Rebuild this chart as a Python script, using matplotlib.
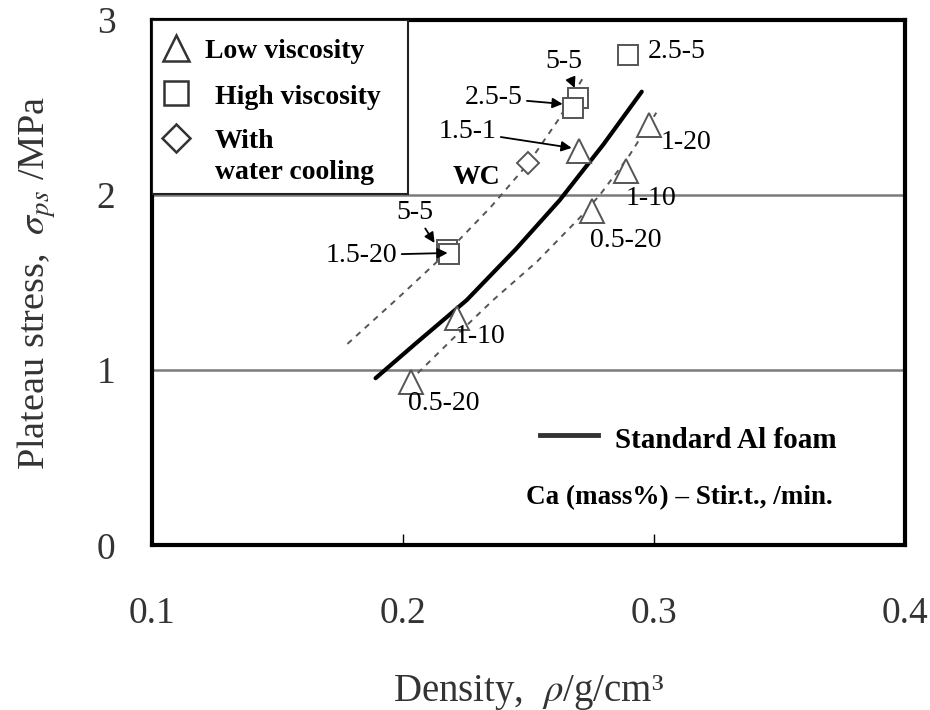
import matplotlib
matplotlib.use("Agg")
import matplotlib.pyplot as plt
from matplotlib.patches import Rectangle
from matplotlib.lines import Line2D

plt.rcParams['font.family'] = ['Liberation Serif', 'DejaVu Serif']
plt.rcParams['mathtext.fontset'] = 'stix'

# Low viscosity samples (triangles)
low_rho = [0.2032, 0.2215, 0.2753, 0.2889, 0.2980, 0.2701]
low_sig = [0.93, 1.30, 1.91, 2.137, 2.40, 2.25]
low_lab = ["0.5-20", "1-10", "0.5-20", "1-10", "1-20", "1.5-1"]

# High viscosity samples (squares)
high_rho = [0.2896, 0.2697, 0.2677, 0.2175, 0.2185]
high_sig = [2.80, 2.554, 2.497, 1.685, 1.665]
high_lab = ["2.5-5", "5-5", "2.5-5", "5-5", "1.5-20"]

# Water-cooled sample (diamond)
wc_rho = [0.2498]
wc_sig = [2.183]

# Standard Al foam curve
std_rho = [0.1892, 0.205, 0.2255, 0.245, 0.2625, 0.280, 0.2952]
std_sig = [0.954, 1.15, 1.40, 1.69, 1.97, 2.29, 2.59]

# Upper and lower guide curves
up_rho = [0.178, 0.198, 0.2175, 0.235, 0.250, 0.262, 0.2725]
up_sig = [1.15, 1.41, 1.67, 1.93, 2.18, 2.43, 2.686]
lo_rho = [0.206, 0.220, 0.236, 0.2535, 0.2705, 0.2785, 0.290, 0.301]
lo_sig = [0.983, 1.18, 1.40, 1.62, 1.87, 2.00, 2.22, 2.47]

x_ticks = [0.1, 0.2, 0.3, 0.4]
y_ticks = [0, 1, 2, 3]

fig = plt.figure(figsize=(9.3, 7.1), dpi=100)
ax = fig.add_axes([0.163, 0.232, 0.810, 0.740])
ax.set_xlim(0.1, 0.4)
ax.set_ylim(0, 3)

for yg in [1, 2]:
    ax.axhline(yg, color='#7a7a7a', lw=1.8, zorder=1)

ax.plot(up_rho, up_sig, ls=(0, (3, 3)), color='#555555', lw=1.4, zorder=2)
ax.plot(lo_rho, lo_sig, ls=(0, (3, 3)), color='#555555', lw=1.4, zorder=2)
ax.plot(std_rho, std_sig, color='black', lw=3.0, solid_capstyle='round', zorder=3)

mk = dict(markerfacecolor='white', markeredgecolor='#555555', markeredgewidth=1.4,
          linestyle='none', zorder=4)
ax.plot(low_rho, low_sig, marker='^', markersize=17, **mk)
ax.plot(high_rho, high_sig, marker='s', markersize=15, **mk)
ax.plot(wc_rho, wc_sig, marker='D', markersize=11, **mk)

fs_ann = 20
# plain point labels
plain = [
    (low_lab[0], 0.2163, 0.81),
    (low_lab[1], 0.2307, 1.19),
    (low_lab[2], 0.2889, 1.743),
    (low_lab[3], 0.2988, 1.98),
    (low_lab[4], 0.3127, 2.30),
    (high_lab[0], 0.3092, 2.82),
]
for lab, tx, ty in plain:
    ax.text(tx, ty, lab, fontsize=fs_ann, ha='center', va='center', zorder=5)
ax.text(0.2295, 2.10, "WC", fontsize=fs_ann, ha='center', va='center',
        fontweight='bold', zorder=5)

# labels with arrows: (text, arrow tip, text position)
arrow = dict(arrowstyle='-|>', color='black', lw=1.3, mutation_scale=15,
             shrinkA=1, shrinkB=0)
pointed = [
    (low_lab[5], (0.2673, 2.269), (0.2259, 2.36)),
    (high_lab[1], (0.2685, 2.611), (0.2641, 2.76)),
    (high_lab[2], (0.2637, 2.52), (0.2363, 2.554)),
    (high_lab[3], (0.2127, 1.726), (0.2048, 1.903)),
    (high_lab[4], (0.2179, 1.669), (0.1837, 1.657)),
]
for lab, tip, pos in pointed:
    ax.annotate(lab, xy=tip, xytext=pos, fontsize=fs_ann, ha='center', va='center',
                arrowprops=arrow, zorder=5)

# marker key box, upper left
tr = ax.transAxes
ax.add_patch(Rectangle((0, 0.668), 0.340, 0.332, transform=tr, facecolor='white',
                       edgecolor='#222222', lw=1.5, zorder=6))
key_mk = dict(markerfacecolor='white', markeredgecolor='#333333', markeredgewidth=1.8,
              linestyle='none', transform=tr, zorder=7, clip_on=False)
ax.add_line(Line2D([0.0320], [0.947], marker='^', markersize=19, **key_mk))
ax.add_line(Line2D([0.0320], [0.861], marker='s', markersize=17, **key_mk))
ax.add_line(Line2D([0.0320], [0.775], marker='D', markersize=14, **key_mk))
fs_key = 20
key_text = [
    ("Low viscosity", 0.0704, 0.939),
    ("High viscosity", 0.0837, 0.853),
    ("With", 0.0837, 0.768),
    ("water cooling", 0.0837, 0.710),
]
for t, kx, ky in key_text:
    ax.text(kx, ky, t, transform=tr, fontsize=fs_key, fontweight='bold',
            va='center', ha='left', zorder=7)

# curve key, lower right
ax.add_line(Line2D([0.515, 0.592], [0.2095, 0.2095], color='#333333', lw=3.5, transform=tr))
ax.text(0.615, 0.200, "Standard Al foam", transform=tr, fontsize=21, fontweight='bold',
        va='center', ha='left')
ax.text(0.701, 0.0914, "Ca (mass%) \u2013 Stir.t., /min.", transform=tr, fontsize=19.5,
        fontweight='bold', va='center', ha='center')

ax.set_xticks(x_ticks)
ax.set_xticklabels([f"{v:.1f}" for v in x_ticks])
ax.set_yticks(y_ticks)
ax.set_yticklabels([str(v) for v in y_ticks])
ax.tick_params(axis='x', direction='in', length=8, width=1, pad=37, labelsize=27,
               labelcolor='#333333')
ax.tick_params(axis='y', direction='in', length=0, pad=26, labelsize=27,
               labelcolor='#333333')
for s in ax.spines.values():
    s.set_linewidth(3)
    s.set_color('black')

ax.set_xlabel(r"Density,  $\rho$/g/cm³", fontsize=28, color='#333333', labelpad=30)
ax.set_ylabel(r"Plateau stress,  $\sigma_{ps}$ /MPa", fontsize=27.5, color='#333333',
              labelpad=28)

fig.savefig("out.png", dpi=100)
